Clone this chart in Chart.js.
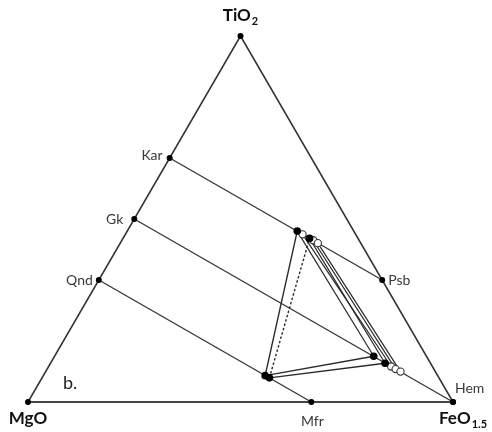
<!DOCTYPE html>
<html><head><meta charset="utf-8">
<script src="https://cdn.jsdelivr.net/npm/chart.js@4/dist/chart.umd.min.js"></script>
<style>html,body{margin:0;padding:0;background:#fff}#wrap{width:492px;height:432px}</style>
</head><body><div id="wrap"><canvas id="c" width="492" height="432"></canvas></div>
<script>
// Compositions as mole fractions of TiO2 and FeO1.5 (MgO = remainder)
const endNames = ['TiO2', 'MgO', 'FeO1.5'];
const endTiO2 = [1, 0, 0];
const endFeO = [0, 0, 1];

const phaseNames = ['Kar', 'Gk', 'Qnd', 'Psb', 'Mfr', 'Hem'];
const phaseTiO2 = [0.6667, 0.5, 0.3333, 0.3333, 0, 0];
const phaseFeO = [0, 0, 0, 0.6667, 0.6667, 1];

const tieFrom = ['Kar', 'Gk', 'Qnd'];
const tieTo = ['Psb', 'Hem', 'Mfr'];

// Three-phase assemblages: spinel ss, pseudobrookite ss, ilmenite-hematite ss
const spFeO = [0.522, 0.535, 0.522, 0.535, 0.535];
const spTiO2 = [0.072, 0.066, 0.072, 0.066, 0.066];
const psbFeO = [0.400, 0.439, 0.417, 0.450, 0.465];
const psbTiO2 = [0.467, 0.447, 0.458, 0.442, 0.434];
const ilmFeO = [0.751, 0.787, 0.806, 0.820, 0.835];
const ilmTiO2 = [0.125, 0.106, 0.097, 0.090, 0.083];
const runFilled = [true, true, false, false, false];
const runSpinelEdge = ['solid', 'dotted', 'none', 'none', 'none'];

const panelLabel = 'b.';

// ternary -> cartesian (data space)
function tern(ti, fe) { return { x: fe + ti / 2, y: ti }; }

const LINE = '#333';
const datasets = [];
function seg(a, b, opts) {
  datasets.push(Object.assign({
    type: 'scatter', data: [a, b], showLine: true, borderColor: LINE, borderWidth: 1.3,
    pointRadius: 0, clip: false, order: 5
  }, opts || {}));
}
// frame
const V = endNames.map((n, i) => tern(endTiO2[i], endFeO[i]));
seg(V[1], V[2], { borderWidth: 1.8, borderColor: '#444' });
seg(V[2], V[0], { borderWidth: 1.5 });
seg(V[0], V[1], { borderWidth: 1.5 });
// tie lines
const P = {};
phaseNames.forEach((n, i) => P[n] = tern(phaseTiO2[i], phaseFeO[i]));
tieFrom.forEach((f, i) => seg(P[f], P[tieTo[i]], { borderWidth: 1.3 }));
// assemblages
for (let i = spFeO.length - 1; i >= 0; i--) {
  const s = tern(spTiO2[i], spFeO[i]);
  const p = tern(psbTiO2[i], psbFeO[i]);
  const m = tern(ilmTiO2[i], ilmFeO[i]);
  seg(p, m, { borderWidth: 1.2, borderColor: '#2a2a2a', order: 4 });
  if (runSpinelEdge[i] !== 'none') {
    const dash = runSpinelEdge[i] === 'dotted' ? [2.5, 2] : [];
    seg(s, p, { borderWidth: 1.4, borderColor: '#2a2a2a', borderDash: dash, order: 4 });
    seg(s, m, { borderWidth: 1.4, borderColor: '#2a2a2a', order: 4 });
  }
}
// vertex and phase dots
datasets.push({
  type: 'scatter', order: 1, clip: false,
  data: V.concat(phaseNames.map(n => P[n])),
  pointRadius: 3, pointBackgroundColor: '#000', pointBorderColor: '#000', pointBorderWidth: 0
});
// assemblage markers: hollow then filled
const hollowPts = [], filledPts = [];
spFeO.forEach((f, i) => {
  const arr = runFilled[i] ? filledPts : hollowPts;
  arr.push(tern(psbTiO2[i], psbFeO[i]), tern(ilmTiO2[i], ilmFeO[i]));
  if (runFilled[i]) arr.push(tern(spTiO2[i], spFeO[i]));
});
datasets.push({
  type: 'scatter', order: 2, clip: false, data: hollowPts,
  pointRadius: 3.6, pointBackgroundColor: '#fff', pointBorderColor: '#333', pointBorderWidth: 1.1
});
datasets.push({
  type: 'scatter', order: 0, clip: false, data: filledPts,
  pointRadius: 3.8, pointBackgroundColor: '#000', pointBorderColor: '#000', pointBorderWidth: 0
});

const labelPlugin = {
  id: 'labels',
  afterDraw(chart) {
    const ctx = chart.ctx, xs = chart.scales.x, ys = chart.scales.y;
    const px = p => ({ x: xs.getPixelForValue(p.x), y: ys.getPixelForValue(p.y) });
    ctx.save();
    ctx.textBaseline = 'middle';
    // small phase labels
    const off = { Kar: [-7, -3, 'right'], Gk: [-11, 0, 'right'], Qnd: [-6, 0, 'right'],
                  Psb: [6, 0, 'left'], Mfr: [1, 19, 'center'], Hem: [2, -14, 'left'] };
    ctx.font = '14px Lato, "Open Sans", sans-serif';
    ctx.fillStyle = '#383838';
    phaseNames.forEach(n => {
      const q = px(P[n]), o = off[n];
      ctx.textAlign = o[2];
      ctx.fillText(n, q.x + o[0], q.y + o[1]);
    });
    // end-member labels with subscripts
    function sub(main, s, x, y, align) {
      const fMain = 'bold 17px Lato, "Open Sans", sans-serif';
      const fSub = 'bold 11px Lato, "Open Sans", sans-serif';
      ctx.font = fMain; const w1 = ctx.measureText(main).width;
      ctx.font = fSub; const w2 = s ? ctx.measureText(s).width + 1 : 0;
      let x0 = x;
      if (align === 'center') x0 = x - (w1 + w2) / 2;
      ctx.textAlign = 'left';
      ctx.fillStyle = '#111';
      ctx.font = fMain; ctx.fillText(main, x0, y);
      if (s) { ctx.font = fSub; ctx.fillText(s, x0 + w1 + 1, y + 5); }
    }
    const t = px(V[0]), mg = px(V[1]), fe = px(V[2]);
    sub('TiO', '2', t.x, t.y - 20, 'center');
    sub('MgO', '', mg.x, mg.y + 17, 'center');
    sub('FeO', '1.5', fe.x - 14, fe.y + 17, 'left');
    ctx.font = '18px Lato, "Open Sans", sans-serif';
    ctx.fillStyle = '#222';
    ctx.textAlign = 'left';
    ctx.fillText(panelLabel, mg.x + 35, mg.y - 19);
    ctx.restore();
  }
};

new Chart(document.getElementById('c'), {
  type: 'scatter',
  data: { datasets },
  options: {
    responsive: false, animation: false, devicePixelRatio: 1,
    layout: { padding: { left: 28, right: 39, top: 36, bottom: 30 } },
    plugins: { legend: { display: false }, tooltip: { enabled: false } },
    scales: {
      x: { type: 'linear', min: 0, max: 1, display: false },
      y: { type: 'linear', min: 0, max: 1, display: false }
    }
  },
  plugins: [labelPlugin]
});
</script></body></html>
